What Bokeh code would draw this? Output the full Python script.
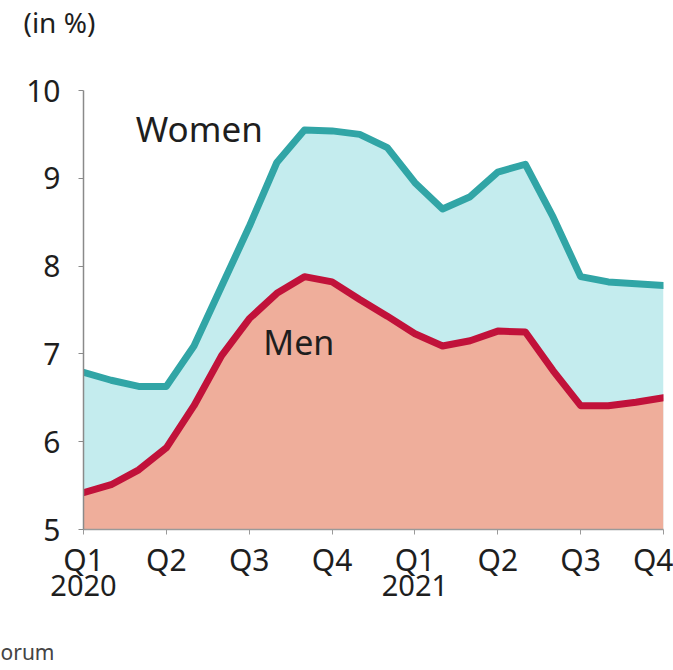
from bokeh.plotting import figure
from bokeh.models import ColumnDataSource, Range1d, FixedTicker, LinearAxis, Label, Title
from bokeh.embed import file_html
from bokeh.resources import INLINE

# ---- data (monthly readings, Q1 2020 .. Q4 2021 quarter marks) ----
month_index = list(range(22))
women = [6.79, 6.70, 6.63, 6.63, 7.09, 7.77, 8.45, 9.18, 9.55, 9.54, 9.50,
         9.35, 8.95, 8.65, 8.79, 9.07, 9.16, 8.56, 7.88, 7.82, 7.80, 7.78]
men = [5.42, 5.51, 5.68, 5.93, 6.41, 6.98, 7.40, 7.69, 7.88, 7.82, 7.62,
       7.43, 7.23, 7.09, 7.15, 7.26, 7.25, 6.81, 6.41, 6.41, 6.45, 6.50]
quarter_ticks = [0, 1, 2, 3, 4, 5, 6, 7]
quarter_labels = ["Q1", "Q2", "Q3", "Q4", "Q1", "Q2", "Q3", "Q4"]
year_ticks = [0, 4]
year_labels = ["2020", "2021"]
y_ticks = [5, 6, 7, 8, 9, 10]
series_names = ["Women", "Men"]
unit_label = "(in %)"
source_note = "orum"

FONT = "Noto Sans"
TXT = "#1e1e1e"

src = ColumnDataSource(dict(
    x=[m / 3 for m in month_index],
    women=women,
    men=men,
    base=[min(y_ticks)] * len(month_index),
))

p = figure(width=673, height=670, output_backend="svg", toolbar_location=None,
           x_range=Range1d(0, 7), y_range=Range1d(5, 10),
           min_border_left=83, min_border_right=10, min_border_top=90,
           min_border_bottom=141, x_axis_type=None, y_axis_type=None)
p.title.visible = False
p.outline_line_color = None
p.background_fill_color = "white"
p.border_fill_color = "white"
p.xgrid.visible = False
p.ygrid.visible = False

p.varea(x="x", y1="base", y2="women", source=src, fill_color="#c4ecee", fill_alpha=1)
p.varea(x="x", y1="base", y2="men", source=src, fill_color="#efae9b", fill_alpha=1)
p.line(x="x", y="women", source=src, line_color="#31a5a6", line_width=7,
       line_join="round", line_cap="round")
p.line(x="x", y="men", source=src, line_color="#c1123a", line_width=7,
       line_join="round", line_cap="round")


def spacer_axis(size):
    """An invisible axis (one hidden tick, empty label) that only reserves space."""
    ax = LinearAxis(ticker=FixedTicker(ticks=[quarter_ticks[0]]))
    ax.major_label_overrides = {quarter_ticks[0]: ""}
    ax.axis_line_color = None
    ax.major_tick_line_color = None
    ax.minor_tick_line_color = None
    ax.major_tick_out = size
    ax.major_tick_in = 0
    ax.major_label_standoff = 0
    ax.major_label_text_font_size = "1px"
    ax.major_label_text_alpha = 0
    return ax


# y axis
ya = LinearAxis(ticker=FixedTicker(ticks=y_ticks))
ya.axis_line_color = "#8a8a8a"
ya.axis_line_width = 1.5
ya.major_tick_line_color = "#8a8a8a"
ya.major_tick_out = 5
ya.major_tick_in = 0
ya.minor_tick_line_color = None
ya.major_label_standoff = 18
ya.major_label_text_font = FONT
ya.major_label_text_font_size = "30px"
ya.major_label_text_color = TXT
ya.major_label_text_baseline = "alphabetic"
p.add_layout(ya, "left")

# x axis (quarters)
xa = LinearAxis(ticker=FixedTicker(ticks=quarter_ticks))
xa.major_label_overrides = {t: l for t, l in zip(quarter_ticks, quarter_labels)}
xa.axis_line_color = "#9a9a9a"
xa.axis_line_width = 1.5
xa.major_tick_line_color = "#9a9a9a"
xa.major_tick_out = 5
xa.major_tick_in = 0
xa.minor_tick_line_color = None
xa.major_label_standoff = 4
xa.major_label_text_font = FONT
xa.major_label_text_font_size = "30px"
xa.major_label_text_color = TXT
p.add_layout(xa, "below")

# x axis (years)
ya2 = LinearAxis(ticker=FixedTicker(ticks=year_ticks))
ya2.major_label_overrides = {t: l for t, l in zip(year_ticks, year_labels)}
ya2.axis_line_color = None
ya2.major_tick_line_color = None
ya2.minor_tick_line_color = None
ya2.major_label_standoff = -14
ya2.major_label_text_align = "left"
ya2.major_label_text_font = FONT
ya2.major_label_text_font_size = "29px"
ya2.major_label_text_color = TXT
p.add_layout(ya2, "below")

# series labels
p.add_layout(Label(x=0.63, y=9.567, text=series_names[0], text_font=FONT,
                   text_font_size="35px", text_color=TXT,
                   text_baseline="alphabetic", text_align="left"))
p.add_layout(Label(x=2.17, y=7.13, text=series_names[1], text_font=FONT,
                   text_font_size="34px", text_color=TXT,
                   text_baseline="alphabetic", text_align="left"))

# unit (top): spacer next to the frame, then the unit text
p.add_layout(spacer_axis(50), "above")
p.add_layout(Title(text=unit_label, align="left", offset=-60, standoff=0,
                   text_font=FONT, text_font_size="28px", text_font_style="normal",
                   text_color=TXT), "above")

# source (bottom): spacer after the axes, then the source text
p.add_layout(spacer_axis(37), "below")
p.add_layout(Title(text=source_note, align="left", offset=-83, standoff=0,
                   text_font=FONT, text_font_size="21px", text_font_style="normal",
                   text_color="#444444"), "below")

open("out.html", "w").write(file_html(p, INLINE))
